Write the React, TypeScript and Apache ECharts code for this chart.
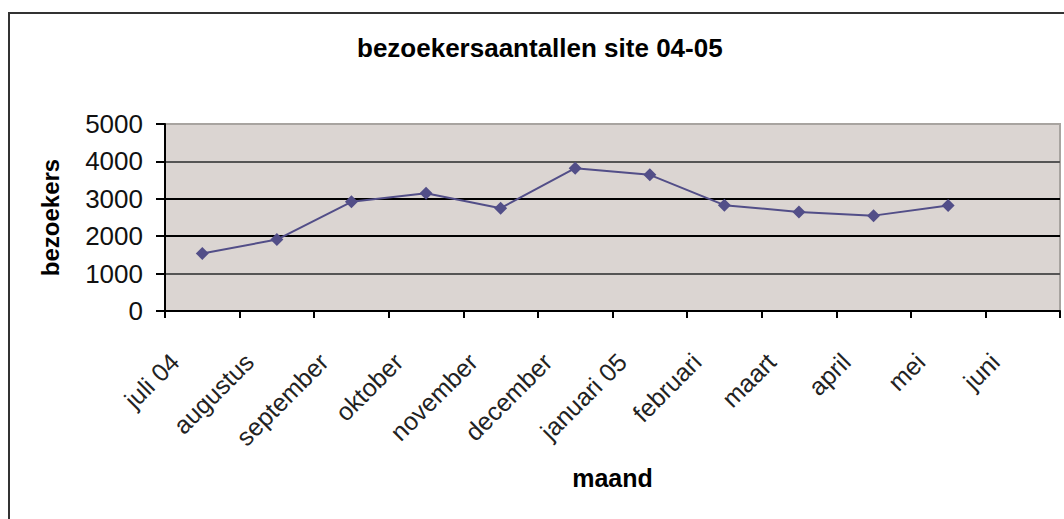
import React, { useEffect, useRef } from "react";
import * as echarts from "echarts";

const categories = [
  "juli 04",
  "augustus",
  "september",
  "oktober",
  "november",
  "december",
  "januari 05",
  "februari",
  "maart",
  "april",
  "mei",
  "juni",
];
const visitors: (number | null)[] = [1540, 1910, 2920, 3150, 2750, 3820, 3640, 2830, 2650, 2550, 2820, null];
const yTicks = [0, 1000, 2000, 3000, 4000, 5000];

const FONT = "'Liberation Sans', Arial, sans-serif";

export default function App() {
  const ref = useRef<HTMLDivElement>(null);
  useEffect(() => {
    if (!ref.current) return;
    const chart = echarts.init(ref.current, null, { renderer: "svg" });
    chart.setOption({
      animation: false,
      backgroundColor: "#ffffff",
      textStyle: { fontFamily: FONT },
      title: {
        text: "bezoekersaantallen site 04-05",
        left: 352,
        top: 30,
        textStyle: { fontFamily: FONT, fontSize: 26, fontWeight: "bold", color: "#000" },
      },
      graphic: [
        {
          type: "rect",
          shape: { x: 9, y: 13, width: 1200, height: 700 },
          style: { fill: "none", stroke: "#333", lineWidth: 2 },
          silent: true,
          z: -1,
        },
      ],
      grid: {
        left: 165,
        right: 4,
        top: 124,
        bottom: 208,
        show: true,
        backgroundColor: "#dbd5d2",
        borderColor: "#a8a4a0",
        borderWidth: 2,
      },
      xAxis: {
        type: "category",
        data: categories,
        boundaryGap: true,
        name: "maand",
        nameLocation: "middle",
        nameGap: 154,
        nameTextStyle: { fontFamily: FONT, fontSize: 25, fontWeight: "bold", color: "#000" },
        axisLine: { show: true, lineStyle: { color: "#000", width: 2 } },
        axisTick: { show: true, length: 7, lineStyle: { color: "#000", width: 2 } },
        axisLabel: {
          rotate: 45,
          margin: 19,
          padding: [0, 39, 0, 0],
          interval: 0,
          fontFamily: FONT,
          fontSize: 25,
          color: "#222",
        },
        splitLine: { show: false },
      },
      yAxis: {
        type: "value",
        min: yTicks[0],
        max: yTicks[yTicks.length - 1],
        interval: 1000,
        name: "bezoekers",
        nameLocation: "middle",
        nameGap: 103,
        nameTextStyle: { fontFamily: FONT, fontSize: 24, fontWeight: "bold", color: "#000" },
        axisLine: { show: true, lineStyle: { color: "#000", width: 2 } },
        axisTick: { show: true, length: 9, lineStyle: { color: "#000", width: 2 } },
        axisLabel: {
          margin: 22,
          fontFamily: FONT,
          fontSize: 26,
          color: "#111",
          formatter: (v: number) => String(v),
        },
        splitLine: {
          show: true,
          lineStyle: {
            color: ["#000", "#555", "#000", "#000", "#555", "#a8a4a0"],
            width: 2,
          },
        },
      },
      series: [
        {
          type: "line",
          data: visitors,
          symbol: "diamond",
          symbolSize: 13,
          itemStyle: { color: "#524e88" },
          lineStyle: { color: "#524e88", width: 2 },
          connectNulls: false,
        },
      ],
    });
    return () => chart.dispose();
  }, []);
  return (
    <div
      ref={ref}
      style={{ position: "absolute", left: 0, top: 0, width: 1064, height: 519 }}
    />
  );
}
